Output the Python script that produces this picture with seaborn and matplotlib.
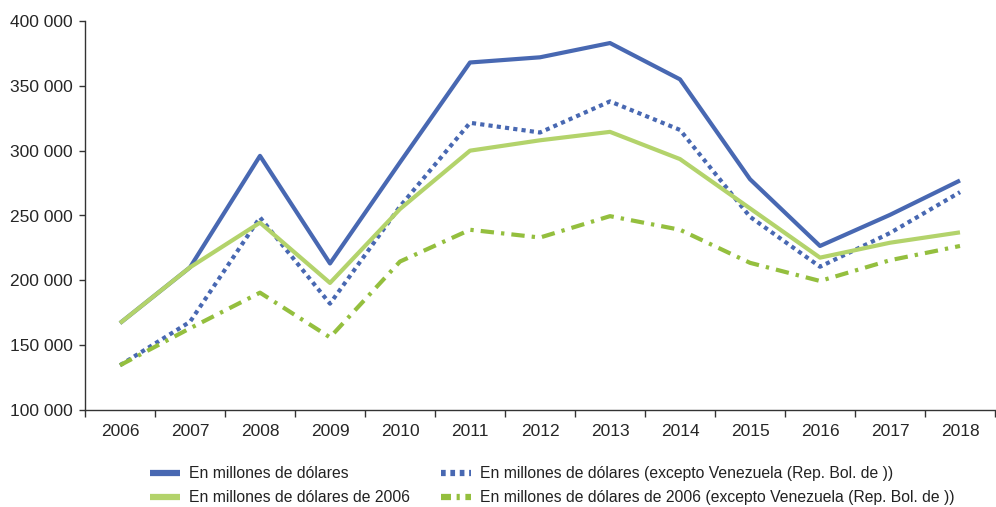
import numpy as np
import pandas as pd
import matplotlib
matplotlib.use("Agg")
import matplotlib.pyplot as plt
import seaborn as sns

# ----------------------------------------------------------------------
# Data
# ----------------------------------------------------------------------
years = [str(y) for y in range(2006, 2019)]

usd_nominal = [167000, 210000, 296000, 213000, 291000, 368000, 372000,
               383000, 355000, 278000, 226500, 250500, 277000]
usd_nominal_ex_ven = [134500, 168000, 248500, 182000, 257000, 321500, 314000,
                      338000, 316000, 249000, 210500, 236500, 268000]
usd_2006 = [167000, 210000, 244500, 198000, 255000, 300000, 308000,
            314500, 293500, 255500, 217500, 229000, 237000]
usd_2006_ex_ven = [134500, 163000, 190500, 156000, 214500, 239000, 233000,
                   249500, 239000, 213500, 199500, 215500, 226500]

series_names = [
    "En millones de dólares",
    "En millones de dólares (excepto Venezuela (Rep. Bol. de ))",
    "En millones de dólares de 2006",
    "En millones de dólares de 2006 (excepto Venezuela (Rep. Bol. de ))",
]
series_values = [usd_nominal, usd_nominal_ex_ven, usd_2006, usd_2006_ex_ven]

y_ticks = [100000, 150000, 200000, 250000, 300000, 350000, 400000]

df = pd.concat(
    [pd.DataFrame({"Año": years, "Valor": vals, "Serie": name})
     for name, vals in zip(series_names, series_values)],
    ignore_index=True,
)

# ----------------------------------------------------------------------
# Styling
# ----------------------------------------------------------------------
sns.set_theme(style="white")
plt.rcParams["font.family"] = ["Liberation Sans", "DejaVu Sans"]
plt.rcParams["text.color"] = "#222222"

BLUE = "#4868B2"
LIGHT_GREEN = "#B3D36B"
DARK_GREEN = "#94BF3E"

palette = {
    series_names[0]: BLUE,
    series_names[1]: BLUE,
    series_names[2]: LIGHT_GREEN,
    series_names[3]: DARK_GREEN,
}
dashes = {
    series_names[0]: "",
    series_names[1]: (1.0, 1.0),
    series_names[2]: "",
    series_names[3]: (3.2, 1.7, 0.8, 1.7),
}

fig = plt.figure(figsize=(9.96, 5.07), dpi=100)
ax = fig.add_axes([85 / 996, 97 / 507, 910 / 996, 389 / 507])

sns.lineplot(
    data=df, x="Año", y="Valor", hue="Serie", style="Serie",
    hue_order=series_names, style_order=series_names,
    palette=palette, dashes=dashes, linewidth=3.0,
    sort=False, ax=ax, legend=True,
)
for line in ax.get_lines():
    line.set_dash_capstyle("butt")
    line.set_solid_capstyle("butt")

# axes limits / ticks
ax.set_xlim(-0.5, len(years) - 0.5)
ax.set_ylim(y_ticks[0], y_ticks[-1])
ax.set_yticks(y_ticks)
ax.set_yticklabels([f"{v:,.0f}".replace(",", " ") for v in y_ticks])
ax.set_xticks(range(len(years)))
ax.set_xticklabels(years)
ax.set_xticks(np.arange(-0.5, len(years), 1.0), minor=True)

ax.tick_params(axis="y", which="major", length=4, width=1, color="#333333",
               direction="out", pad=5, labelsize=12.5, left=True)
ax.tick_params(axis="x", which="major", length=0, pad=10, labelsize=12.5)
ax.tick_params(axis="x", which="minor", length=5, width=1, color="#333333",
               direction="out", bottom=True)

ax.set_xlabel("")
ax.set_ylabel("")
for side in ["top", "right"]:
    ax.spines[side].set_visible(False)
for side in ["left", "bottom"]:
    ax.spines[side].set_color("#333333")
    ax.spines[side].set_linewidth(1.0)
ax.grid(False)

# legend at the bottom, two columns
handles, labels = ax.get_legend_handles_labels()
ax.get_legend().remove()
lookup = dict(zip(labels, handles))
order = [series_names[0], series_names[2], series_names[1], series_names[3]]
leg = fig.legend(
    [lookup[n] for n in order], order,
    loc="upper left", bbox_to_anchor=(150 / 996, 1 - 466 / 507),
    ncol=2, frameon=False, fontsize=11.3,
    handlelength=1.9, handletextpad=0.6, columnspacing=1.95,
    labelspacing=0.6, borderpad=0, borderaxespad=0,
)
leg_lines = leg.get_lines()
for h in leg_lines:
    h.set_linewidth(4.5)
    h.set_dash_capstyle("butt")
# shorter patterns so the whole dash-dot motif fits in the legend key
leg_lines[2].set_dashes((0.75, 0.75))
leg_lines[3].set_dashes((1.6, 0.9, 0.5, 0.9))

fig.savefig("out.png", dpi=100)
